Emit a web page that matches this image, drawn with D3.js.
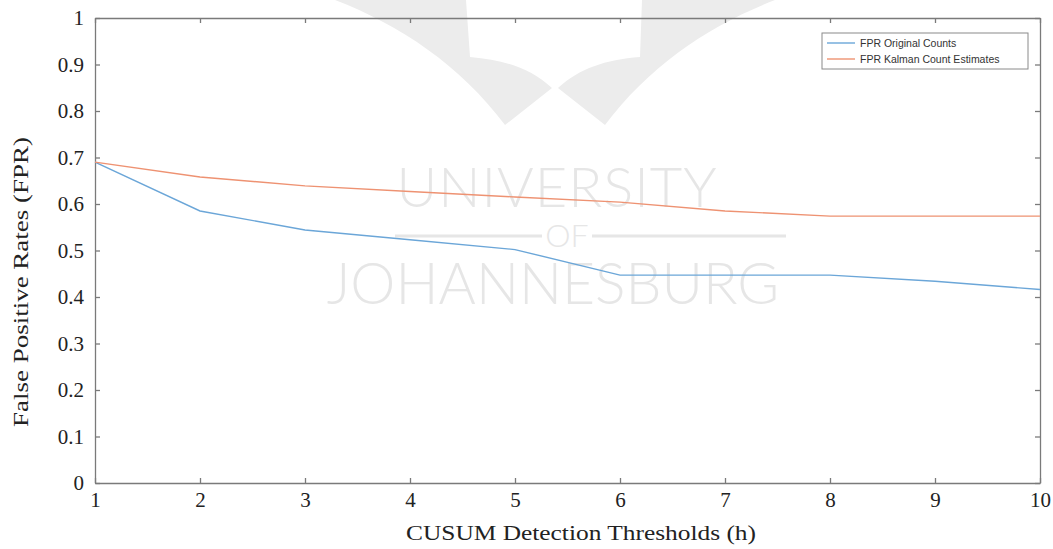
<!DOCTYPE html>
<meta charset="utf-8">
<style>
    body { margin: 0; background: #fff; }
    .axis path, .axis line { stroke: #7a7a7a; stroke-width: 1.3px; }
    .axis text { font-family: "Liberation Serif", "DejaVu Serif", serif; font-size: 21px; fill: #222; }
    .mark { font-family: Lato, "Open Sans", sans-serif; font-weight: 300; fill: #e6e6e6; }
    .legend text { font-family: "Liberation Sans", Arial, sans-serif; font-size: 10.5px; fill: #333; }
</style>
<svg width="1053" height="549"></svg>
<script src="https://cdnjs.cloudflare.com/ajax/libs/d3/7.8.5/d3.min.js"></script>
<script>

    var thresholds = [1, 2, 3, 4, 5, 6, 7, 8, 9, 10];
    var fprOriginal = [0.69, 0.585, 0.544, 0.523, 0.502, 0.447, 0.447, 0.447, 0.434, 0.416];
    var fprKalman   = [0.69, 0.658, 0.639, 0.627, 0.615, 0.604, 0.585, 0.574, 0.574, 0.574];
    var seriesNames = ["FPR Original Counts", "FPR Kalman Count Estimates"];
    var seriesColors = ["#6ba6d8", "#ee9272"];
    var yTicks = [0, 0.1, 0.2, 0.3, 0.4, 0.5, 0.6, 0.7, 0.8, 0.9, 1];

    var svg = d3.select("svg");
    var plotLeft = 95, plotRight = 1040, plotTop = 18, plotBottom = 483;

    var x = d3.scaleLinear().domain([1, 10]).range([plotLeft, plotRight]);
    var y = d3.scaleLinear().domain([0, 1]).range([plotBottom, plotTop]);

    // faint watermark behind the plot
    var wm = svg.append("g");
    wm.append("path")
            .attr("fill", "#ececec")
            .attr("d", "M335,0 C400,25 460,65 505,125 L552,88 C530,68 505,60 470,57 L466,0 Z");
    wm.append("path")
            .attr("fill", "#ececec")
            .attr("d", "M775,0 C710,25 650,65 605,125 L558,88 C580,68 605,60 640,57 L642,0 Z");
    wm.append("text").attr("class", "mark").attr("x", 557).attr("y", 207)
            .attr("text-anchor", "middle").attr("font-size", 56).attr("letter-spacing", 1).text("UNIVERSITY");
    wm.append("text").attr("class", "mark").attr("x", 567).attr("y", 247)
            .attr("text-anchor", "middle").attr("font-size", 32).text("OF");
    wm.append("line").attr("x1", 395).attr("x2", 542).attr("y1", 236).attr("y2", 236)
            .attr("stroke", "#e6e6e6").attr("stroke-width", 3);
    wm.append("line").attr("x1", 592).attr("x2", 786).attr("y1", 236).attr("y2", 236)
            .attr("stroke", "#e6e6e6").attr("stroke-width", 3);
    wm.append("text").attr("class", "mark").attr("x", 553).attr("y", 304)
            .attr("text-anchor", "middle").attr("font-size", 57).text("JOHANNESBURG");

    // axes on all four sides, ticks pointing in
    svg.append("g").attr("class", "axis")
            .attr("transform", "translate(0," + plotBottom + ")")
            .call(d3.axisBottom(x).tickValues(thresholds).tickSize(-5).tickPadding(6).tickSizeOuter(0))
            .selectAll("text").attr("dy", "0.85em");
    svg.append("g").attr("class", "axis")
            .attr("transform", "translate(0," + plotTop + ")")
            .call(d3.axisTop(x).tickValues(thresholds).tickSize(-5).tickFormat("").tickSizeOuter(0));
    svg.append("g").attr("class", "axis")
            .attr("transform", "translate(" + plotLeft + ",0)")
            .call(d3.axisLeft(y).tickValues(yTicks).tickSize(-5).tickPadding(11).tickSizeOuter(0)
                    .tickFormat(function(d) { return d === 0 || d === 1 ? d3.format("d")(d) : d3.format(".1f")(d); }));
    svg.append("g").attr("class", "axis")
            .attr("transform", "translate(" + plotRight + ",0)")
            .call(d3.axisRight(y).tickValues(yTicks).tickSize(-5).tickFormat("").tickSizeOuter(0));

    // lines
    var line = d3.line()
            .x(function(d, i) { return x(thresholds[i]); })
            .y(function(d) { return y(d); });

    [fprOriginal, fprKalman].forEach(function(s, i) {
        svg.append("path")
                .datum(s)
                .attr("fill", "none")
                .attr("stroke", seriesColors[i])
                .attr("stroke-width", 1.4)
                .attr("d", line);
    });

    // axis titles
    svg.append("text")
            .attr("x", 581).attr("y", 540)
            .attr("text-anchor", "middle")
            .attr("font-family", "Liberation Serif, DejaVu Serif, serif")
            .attr("font-size", 21).attr("fill", "#222")
            .attr("textLength", 350).attr("lengthAdjust", "spacingAndGlyphs")
            .text("CUSUM Detection Thresholds (h)");
    svg.append("text")
            .attr("transform", "translate(28,282) rotate(-90)")
            .attr("text-anchor", "middle")
            .attr("font-family", "Liberation Serif, DejaVu Serif, serif")
            .attr("font-size", 21).attr("fill", "#222")
            .attr("textLength", 290).attr("lengthAdjust", "spacingAndGlyphs")
            .text("False Positive Rates (FPR)");

    // legend
    var legend = svg.append("g").attr("class", "legend");
    legend.append("rect")
            .attr("x", 822).attr("y", 33).attr("width", 206).attr("height", 36)
            .attr("fill", "#fff").attr("stroke", "#8a8a8a").attr("stroke-width", 1);
    seriesNames.forEach(function(name, i) {
        var ly = 43 + i * 16;
        legend.append("line")
                .attr("x1", 827).attr("x2", 855).attr("y1", ly).attr("y2", ly)
                .attr("stroke", seriesColors[i]).attr("stroke-width", 1.4);
        legend.append("text")
                .attr("x", 860).attr("y", ly + 4).text(name);
    });

</script>
